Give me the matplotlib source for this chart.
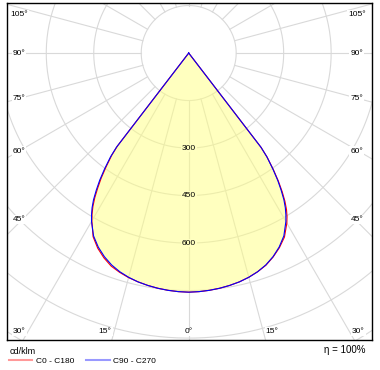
import numpy as np
import matplotlib
matplotlib.use('Agg')
import matplotlib.pyplot as plt

plt.rcParams['font.family'] = ['Liberation Sans', 'DejaVu Sans']

# gamma angles (deg from nadir) and intensities in cd/klm
gamma = [0, 2.5, 5, 7.5, 10, 12.5, 15, 17.5, 20, 22.5, 25, 27.5, 30, 31, 32, 33, 34, 35, 36, 37, 37.5, 38, 90, 180]
c0 = [755, 754, 752, 749, 745, 740, 733, 724, 713, 697, 678, 655, 620, 603, 583, 558, 528, 494, 455, 412, 376, 0, 0, 0]
c180 = [755, 754, 752, 749, 745, 740, 734, 726, 716, 700, 680, 654, 612, 593, 571, 545, 514, 482, 444, 404, 370, 0, 0, 0]
c90 = [755, 754, 752, 749, 745, 740, 733, 724, 712, 696, 676, 651, 614, 596, 576, 552, 522, 490, 452, 410, 375, 0, 0, 0]
c270 = [755, 754, 752, 749, 745, 740, 733, 724, 712, 696, 676, 651, 614, 596, 576, 552, 522, 490, 452, 410, 375, 0, 0, 0]

ring_values = [150, 300, 450, 600, 750, 900, 1050]
ring_labels = [300, 450, 600]
side_angles = [45, 60, 75, 90, 105]
bottom_angles = [0, 15, 30]

fig = plt.figure(figsize=(3.8, 3.7), dpi=100)
ax = fig.add_axes([7 / 380, 30 / 370, 365 / 380, 337 / 370])
ax.set_xlim(-574, 579)
ax.set_ylim(-906, 158)
ax.set_xticks([])
ax.set_yticks([])
for sp in ax.spines.values():
    sp.set_color('black')
    sp.set_linewidth(1.0)

grid_col = '#d9d9d9'
t = np.linspace(0, 2 * np.pi, 400)
for r in ring_values:
    ax.plot(r * np.sin(t), r * np.cos(t), color=grid_col, lw=0.8, zorder=1)
for a in range(0, 360, 15):
    ar = np.radians(a)
    ax.plot([150 * np.sin(ar), 1300 * np.sin(ar)], [-150 * np.cos(ar), -1300 * np.cos(ar)],
            color=grid_col, lw=0.8, zorder=1)


def half_curve(vals, side):
    g = np.radians(gamma)
    v = np.array(vals, dtype=float)
    return side * v * np.sin(g), -v * np.cos(g)


# full curves: left half is C180 / C270, right half is C0 / C90
lx, ly = half_curve(c180, -1)
rx, ry = half_curve(c0, 1)
red_x = np.concatenate([lx[::-1], rx])
red_y = np.concatenate([ly[::-1], ry])
lx, ly = half_curve(c270, -1)
rx, ry = half_curve(c90, 1)
blue_x = np.concatenate([lx[::-1], rx])
blue_y = np.concatenate([ly[::-1], ry])

ax.fill(blue_x, blue_y, color='#ffff80', alpha=0.5, lw=0, zorder=2)
l1, = ax.plot(red_x, red_y, color='#ff0000', lw=0.8, zorder=3, label='C0 - C180')
l2, = ax.plot(blue_x, blue_y, color='#0000ff', lw=0.8, zorder=4, label='C90 - C270')

for v in ring_labels:
    ax.text(0, -v, str(v), fontsize=6, ha='center', va='center', zorder=5,
            bbox=dict(facecolor='#ffffc0', edgecolor='none', pad=0.6))

# angle labels at the frame
x_in = 536
y_top, y_bot = 123, -878
for a in side_angles:
    ar = np.radians(a)
    y = -x_in / np.tan(ar) if a != 90 else 0
    y = min(max(y, y_bot), y_top)
    if a == 45:
        y += 10
    for s in (-1, 1):
        ax.text(s * (x_in - 5 if s > 0 else x_in), y, '%d°' % a, fontsize=6, ha='center', va='center',
                zorder=5, bbox=dict(facecolor='white', edgecolor='none', pad=0.8))
for a in bottom_angles:
    ar = np.radians(a)
    x = -y_bot * np.tan(ar)
    for s in (-1, 1):
        if a == 0:
            ha = 'center'
        else:
            ha = 'right' if s < 0 else 'left'
        ax.text(s * (x + 8 if a else 0), y_bot, '%d°' % a, fontsize=6, ha=ha, va='center',
                zorder=5, bbox=dict(facecolor='white', edgecolor='none', pad=0.8))
        if a == 0:
            break

fig.text(10 / 380, 1 - 351 / 370, 'cd/klm', fontsize=6.5, ha='left', va='center')
fig.text(366 / 380, 1 - 350 / 370, 'η = 100%', fontsize=7, ha='right', va='center')
leg = fig.legend(handles=[l1, l2], loc='center left', bbox_to_anchor=(3 / 380, 1 - 361 / 370),
                 ncol=2, frameon=False, fontsize=6, handlelength=2.8, handletextpad=0.4,
                 columnspacing=1.5, borderpad=0.2)
for h in leg.legend_handles:
    h.set_alpha(0.4)
    h.set_linewidth(1.5)

fig.savefig('out.png', dpi=100)
